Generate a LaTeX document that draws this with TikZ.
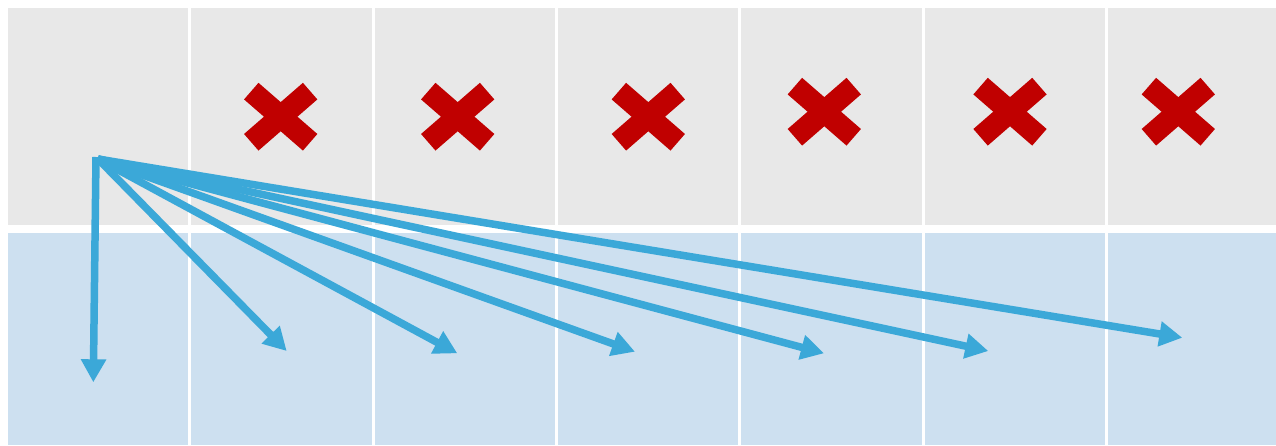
\documentclass[tikz,border=0pt]{standalone}
\usetikzlibrary{arrows.meta}
\definecolor{cellgray}{HTML}{E8E8E8}
\definecolor{cellblue}{HTML}{CDE0F0}
\definecolor{arrowblue}{HTML}{3BA8D8}
\definecolor{crossred}{HTML}{C00000}
\tikzset{
  sep/.style={draw=white, line width=3pt},
  link/.style={draw=arrowblue, line width=7.5pt, -{Triangle[length=23pt,width=24pt]}},
  crossarm/.style={fill=crossred},
}
\begin{document}
\begin{tikzpicture}[x=1pt,y=-1pt]
\useasboundingbox (0,0) rectangle (1276,445);
\fill[white] (0,0) rectangle (1276,445);
\fill[cellgray] (8,8) rectangle (1276,225);
\fill[cellblue] (8,233) rectangle (1276,445);
\foreach \x in {189.7,373,556.3,739.7,923,1106.3}
  \draw[sep] (\x,0) -- (\x,445);
% crosses
\foreach \cx/\cy in {280.7/116.7,457.7/116.7,648.3/116.7,824.3/111.7,1010/111.7,1178.3/111.7}{
  \fill[crossarm, shift={(\cx,\cy)}, rotate=41] (-39,-11) rectangle (39,11);
  \fill[crossarm, shift={(\cx,\cy)}, rotate=-41] (-39,-11) rectangle (39,11);
}
% arrows
\coordinate (s) at (98,159);
\coordinate (s0) at (96,157);
\coordinate (e1) at (93.3,382.3);
\coordinate (e2) at (286.7,351);
\coordinate (e3) at (457.3,353.3);
\coordinate (e4) at (635,351.7);
\coordinate (e5) at (824,353.3);
\coordinate (e6) at (988.3,351);
\coordinate (e7) at (1182.3,337.7);
\draw[link] (s0) -- (e1);
\foreach \e in {e2,e3,e4,e5,e6,e7}
  \draw[link] (s) -- (\e);
\end{tikzpicture}
\end{document}
